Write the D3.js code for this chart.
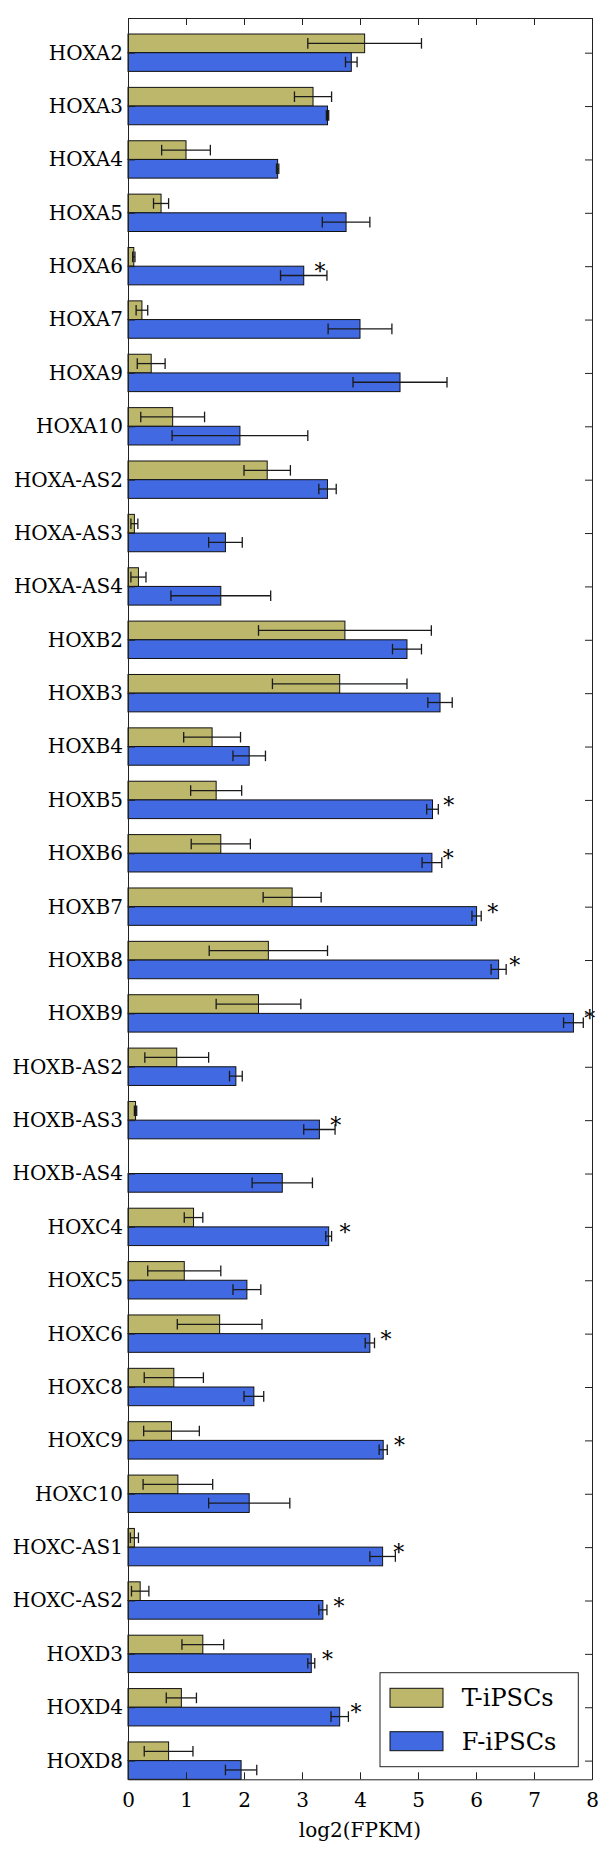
<!DOCTYPE html>
<html>
<head>
<meta charset="utf-8">
<script src="https://cdn.jsdelivr.net/npm/d3@7"></script>
<style>
  body { margin: 0; background: #fff; }
  text { font-family: "DejaVu Serif", serif; fill: #000; }
</style>
</head>
<body>
<script>
// genes, top to bottom
const genes = ["HOXA2","HOXA3","HOXA4","HOXA5","HOXA6","HOXA7","HOXA9","HOXA10",
  "HOXA-AS2","HOXA-AS3","HOXA-AS4","HOXB2","HOXB3","HOXB4","HOXB5","HOXB6","HOXB7",
  "HOXB8","HOXB9","HOXB-AS2","HOXB-AS3","HOXB-AS4","HOXC4","HOXC5","HOXC6","HOXC8",
  "HOXC9","HOXC10","HOXC-AS1","HOXC-AS2","HOXD3","HOXD4","HOXD8"];

const series = ["T-iPSCs", "F-iPSCs"];
const colors = ["#bdb76b", "#4169e1"];

// T-iPSCs
const tMean = [4.08,3.19,1.00,0.57,0.10,0.24,0.40,0.77,2.40,0.11,0.18,3.74,3.65,1.45,1.52,1.60,2.83,
  2.42,2.25,0.84,0.13,0.00,1.13,0.97,1.58,0.79,0.75,0.86,0.11,0.21,1.29,0.92,0.70];
const tErr = [0.98,0.32,0.42,0.13,0.02,0.10,0.24,0.55,0.40,0.06,0.13,1.49,1.16,0.49,0.44,0.51,0.50,
  1.02,0.73,0.55,0.02,0.00,0.16,0.63,0.73,0.51,0.48,0.60,0.07,0.15,0.36,0.26,0.42];

// F-iPSCs
const fMean = [3.85,3.44,2.58,3.76,3.03,4.00,4.69,1.93,3.44,1.68,1.60,4.81,5.38,2.09,5.25,5.24,6.01,
  6.39,7.68,1.86,3.30,2.66,3.46,2.05,4.17,2.17,4.40,2.09,4.39,3.36,3.16,3.65,1.95];
const fErr = [0.10,0.02,0.02,0.41,0.40,0.55,0.81,1.17,0.15,0.29,0.86,0.25,0.21,0.28,0.10,0.17,0.08,
  0.13,0.17,0.11,0.27,0.52,0.05,0.24,0.08,0.17,0.07,0.70,0.22,0.07,0.06,0.15,0.27];

// genes marked with *
const starred = ["HOXA6","HOXB5","HOXB6","HOXB7","HOXB8","HOXB9","HOXB-AS3","HOXC4","HOXC6",
  "HOXC9","HOXC-AS1","HOXC-AS2","HOXD3","HOXD4"];

const xTicks = [0,1,2,3,4,5,6,7,8];
const xTitle = "log2(FPKM)";

const W = 609, H = 1856;
const m = { left: 128, right: 592, top: 18, bottom: 1779.3 };
const barH = 0.35;

const svg = d3.select("body").append("svg")
    .attr("width", W)
    .attr("height", H);

svg.append("rect").attr("width", W).attr("height", H).attr("fill", "#fff");

const x = d3.scaleLinear().domain([0, 8]).range([m.left, m.right]);
const y = d3.scaleLinear().domain([-0.65, 32.35]).range([m.top, m.bottom]);

const rows = genes.map((g, i) => ({
    gene: g, i: i,
    vals: [{ s: 0, v: tMean[i], e: tErr[i] }, { s: 1, v: fMean[i], e: fErr[i] }]
}));

// bars
const grp = svg.append("g").selectAll("g")
    .data(rows)
    .enter().append("g");

grp.selectAll("rect")
    .data(d => d.vals.map(v => Object.assign({ i: d.i }, v)))
    .enter().append("rect")
    .attr("x", x(0))
    .attr("y", d => d.s === 0 ? y(d.i - barH) : y(d.i))
    .attr("width", d => x(d.v) - x(0))
    .attr("height", y(barH) - y(0))
    .attr("fill", d => colors[d.s])
    .attr("stroke", "#111")
    .attr("stroke-width", 1);

// error bars
const cap = 5.3;
const eb = grp.selectAll("g.err")
    .data(d => d.vals.filter(v => v.e > 0).map(v => Object.assign({ i: d.i }, v)))
    .enter().append("g")
    .attr("class", "err")
    .attr("stroke", "#1a1a1a")
    .attr("stroke-width", 1.3);

const cy = d => d.s === 0 ? y(d.i - barH / 2) : y(d.i + barH / 2);

eb.append("line")
    .attr("x1", d => x(d.v - d.e)).attr("x2", d => x(d.v + d.e))
    .attr("y1", cy).attr("y2", cy);
eb.append("line")
    .attr("x1", d => x(d.v - d.e)).attr("x2", d => x(d.v - d.e))
    .attr("y1", d => cy(d) - cap).attr("y2", d => cy(d) + cap);
eb.append("line")
    .attr("x1", d => x(d.v + d.e)).attr("x2", d => x(d.v + d.e))
    .attr("y1", d => cy(d) - cap).attr("y2", d => cy(d) + cap);

// asterisks
svg.append("g").selectAll("text")
    .data(rows.filter(d => starred.includes(d.gene)))
    .enter().append("text")
    .attr("x", d => x(fMean[d.i] + 0.28))
    .attr("y", d => y(d.i) + 13)
    .attr("text-anchor", "middle")
    .style("font-size", "22px")
    .text("*");

// axes
const yIdx = d3.range(genes.length);

const axL = svg.append("g")
    .attr("transform", `translate(${m.left},0)`)
    .call(d3.axisLeft(y).tickValues(yIdx).tickFormat(i => genes[i])
        .tickSizeInner(-7).tickSizeOuter(0).tickPadding(5));
axL.selectAll("text").style("font-size", "20px");

svg.append("g")
    .attr("transform", `translate(${m.right},0)`)
    .call(d3.axisRight(y).tickValues(yIdx).tickFormat("")
        .tickSizeInner(-7).tickSizeOuter(0));

const axB = svg.append("g")
    .attr("transform", `translate(0,${m.bottom})`)
    .call(d3.axisBottom(x).tickValues(xTicks).tickFormat(d3.format("d"))
        .tickSizeInner(-7).tickSizeOuter(0).tickPadding(14));
axB.selectAll("text").style("font-size", "20px");

svg.append("g")
    .attr("transform", `translate(0,${m.top})`)
    .call(d3.axisTop(x).tickValues(xTicks).tickFormat("")
        .tickSizeInner(-7).tickSizeOuter(0));

svg.selectAll(".domain, .tick line").attr("stroke", "#222").attr("stroke-width", 1);

svg.append("text")
    .attr("x", (m.left + m.right) / 2)
    .attr("y", 1837)
    .attr("text-anchor", "middle")
    .style("font-size", "20px")
    .text(xTitle);

// legend
const lg = svg.append("g").attr("transform", "translate(380,1672.7)");
lg.append("rect")
    .attr("width", 198.3).attr("height", 94)
    .attr("fill", "#fff").attr("stroke", "#222").attr("stroke-width", 1);

const li = lg.selectAll("g.item")
    .data(series)
    .enter().append("g")
    .attr("class", "item")
    .attr("transform", (d, k) => `translate(10,${15.6 + k * 43.4})`);
li.append("rect")
    .attr("width", 53).attr("height", 19)
    .attr("fill", (d, k) => colors[k])
    .attr("stroke", "#111").attr("stroke-width", 1);
li.append("text")
    .attr("x", 71.7)
    .attr("y", 9.5)
    .attr("dy", "0.36em")
    .style("font-size", "24px")
    .text(d => d);
</script>
</body>
</html>
